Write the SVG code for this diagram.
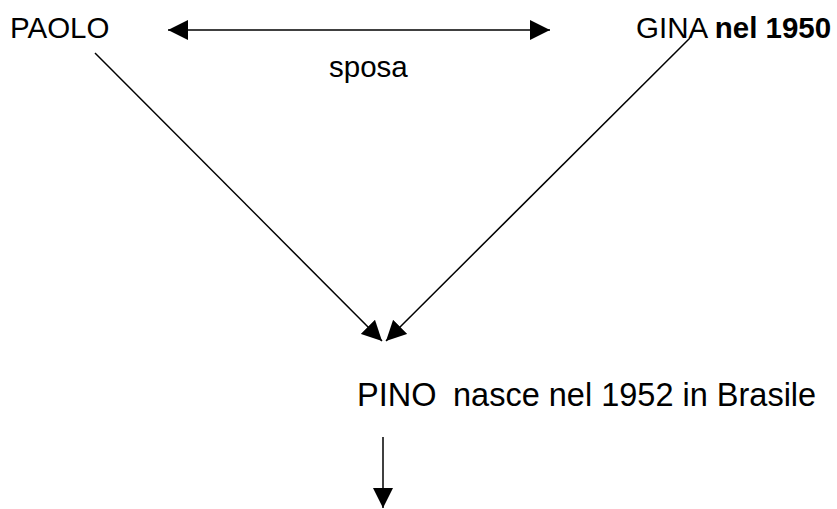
<svg xmlns="http://www.w3.org/2000/svg" width="837" height="509" viewBox="0 0 837 509">
  <style>
    text { font-family: "Liberation Sans", Arial, sans-serif; font-size: 29.5px; fill: #000; white-space: pre; }
    .b { font-weight: bold; }
    .wide { font-size: 32.5px; }
    .conn { stroke: #000; stroke-width: 1.5; fill: none; }
  </style>
  <defs>
    <marker id="head" viewBox="0 0 20 20" refX="20" refY="10" markerWidth="20" markerHeight="20" markerUnits="userSpaceOnUse" orient="auto-start-reverse">
      <path d="M0,0 L20,10 L0,20 Z" fill="#000"/>
    </marker>
  </defs>
  <rect width="837" height="509" fill="#fff"/>

  <g id="paolo"><text x="10" y="38">PAOLO</text></g>
  <g id="gina"><text x="636" y="38">GINA <tspan class="b">nel 1950</tspan></text></g>
  <g id="sposa"><text x="329" y="77">sposa</text></g>
  <g id="pino">
    <text class="wide" x="357" y="406">PINO</text>
    <text class="wide" x="453" y="406">nasce nel 1952 in Brasile</text>
  </g>

  <g id="connectors">
    <line class="conn" x1="168" y1="30" x2="550" y2="30" marker-start="url(#head)" marker-end="url(#head)"/>
    <line class="conn" x1="95" y1="53" x2="382" y2="341" marker-end="url(#head)"/>
    <line class="conn" x1="690" y1="38" x2="386" y2="341" marker-end="url(#head)"/>
    <line class="conn" x1="383" y1="437" x2="383" y2="508" marker-end="url(#head)"/>
  </g>
</svg>
